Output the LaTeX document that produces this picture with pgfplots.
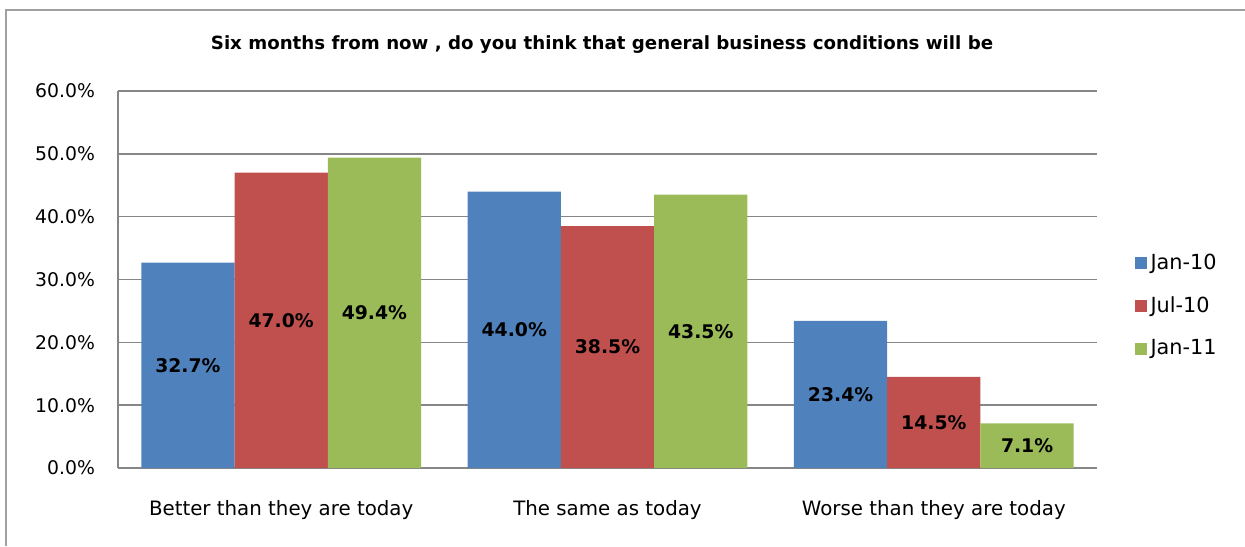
\documentclass[border=0pt]{standalone}
\usepackage{fontspec}
\setmainfont{DejaVu Sans}
\usepackage{pgfplots}
\pgfplotsset{compat=1.18}
\usepackage{pgfplotstable}
\definecolor{cblue}{HTML}{4F81BD}
\definecolor{cred}{HTML}{C0504D}
\definecolor{cgreen}{HTML}{9BBB59}
\definecolor{cgrid}{HTML}{868686}
\definecolor{cframe}{HTML}{A0A0A0}
\pgfplotstableread{
x y
0 32.7
1 44.0
2 23.4
}\janA
\pgfplotstableread{
x y
0 47.0
1 38.5
2 14.5
}\julA
\pgfplotstableread{
x y
0 49.4
1 43.5
2 7.1
}\janB
\pgfplotsset{lbl/.style={draw=none, mark=none, forget plot, point meta=\thisrow{y},
  nodes near coords={\pgfmathprintnumber[fixed,fixed zerofill,precision=1,assume math mode=true]{\pgfplotspointmeta}\%},
  every node near coord/.append style={anchor=center, font=\bfseries\fontsize{9.4pt}{11pt}\selectfont, text=black}}}
\begin{document}
\begin{tikzpicture}[font=\fontsize{9.4pt}{11pt}\selectfont]
\useasboundingbox (-59pt,-39pt) rectangle (563.5pt,234pt);
\draw[cframe, line width=0.8pt] (-56pt,-39pt) -- (-56pt,229pt) -- (563.5pt,229pt);
\begin{axis}[
  at={(0pt,0pt)}, anchor=south west,
  scale only axis, width=489.5pt, height=188.5pt,
  xmin=-0.5, xmax=2.5, ymin=0, ymax=60,
  axis x line=bottom, axis y line=left,
  axis line style={-, cgrid, line width=0.7pt},
  major tick length=0pt,
  xtick={0,1,2},
  xticklabels={Better than they are today, The same as today, Worse than they are today},
  ytick={0,10,...,60},
  ymajorgrids, grid style={cgrid, line width=0.7pt},
  yticklabel={\pgfmathprintnumber[fixed,fixed zerofill,precision=1]{\tick}\%},
  /pgf/number format/assume math mode=true,
  yticklabel style={xshift=-8pt, font=\fontsize{9.4pt}{11pt}\selectfont},
  xticklabel style={yshift=-12.5pt, font=\fontsize{9.9pt}{11pt}\selectfont},
  legend style={at={(1.038,0.43)}, anchor=west, draw=none, fill=none,
    font=\fontsize{10.4pt}{12pt}\selectfont, row sep=8pt, inner sep=0pt,
    /tikz/every even column/.append style={column sep=2pt}},
  legend cell align=left,
  legend image code/.code={\fill[#1] (0pt,-3pt) rectangle (6pt,3pt);},
]
\addplot[ybar, bar width=0.2857, bar shift=-0.2857, fill=cblue, draw=none] table[x=x,y=y] {\janA};
\addlegendentry{Jan-10}
\addplot[ybar, bar width=0.2857, bar shift=0, fill=cred, draw=none] table[x=x,y=y] {\julA};
\addlegendentry{Jul-10}
\addplot[ybar, bar width=0.2857, bar shift=0.2857, fill=cgreen, draw=none] table[x=x,y=y] {\janB};
\addlegendentry{Jan-11}
\addplot[lbl] table[x expr=\thisrow{x}-0.2857, y expr=\thisrow{y}/2] {\janA};
\addplot[lbl] table[x expr=\thisrow{x}, y expr=\thisrow{y}/2] {\julA};
\addplot[lbl] table[x expr=\thisrow{x}+0.2857, y expr=\thisrow{y}/2] {\janB};
\end{axis}
\node[font=\bfseries\fontsize{9.1pt}{11pt}\selectfont] at (242pt,211.5pt) {Six months from now , do you think that general business conditions will be};
\end{tikzpicture}
\end{document}
